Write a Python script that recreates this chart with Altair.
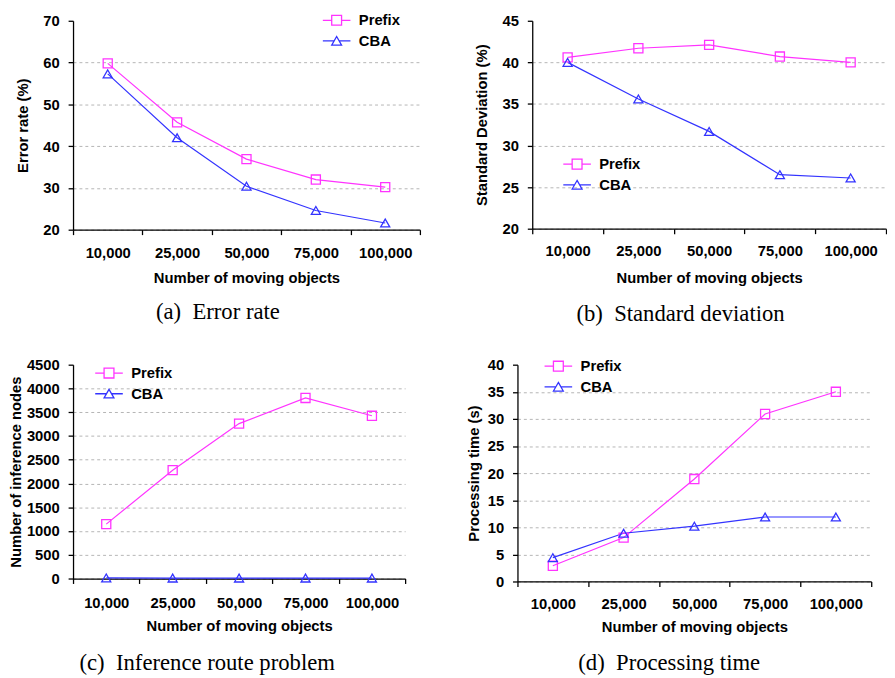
import altair as alt
import pandas as pd

# ---------------- data ----------------
objects = ["10,000", "25,000", "50,000", "75,000", "100,000"]
series = ["Prefix", "CBA"]

err_prefix = [59.8, 45.7, 36.9, 32.0, 30.2]
err_cba = [57.3, 42.0, 30.4, 24.6, 21.6]
err_ticks = [20, 30, 40, 50, 60, 70]

std_prefix = [40.6, 41.7, 42.1, 40.7, 40.0]
std_cba = [40.0, 35.6, 31.7, 26.5, 26.1]
std_ticks = [20, 25, 30, 35, 40, 45]

nodes_prefix = [1145, 2280, 3260, 3800, 3425]
nodes_cba = [12, 10, 10, 10, 10]
nodes_ticks = [0, 500, 1000, 1500, 2000, 2500, 3000, 3500, 4000, 4500]

time_prefix = [2.9, 8.1, 18.9, 30.9, 35.0]
time_cba = [4.4, 8.9, 10.2, 11.9, 11.9]
time_ticks = [0, 5, 10, 15, 20, 25, 30, 35, 40]

# ---------------- style ----------------
MAG = "#FF33FF"
BLUE = "#3333FF"
FONT = "Liberation Sans"
SERIF = "Liberation Serif"
SQ_PATH = "M-2.8,0H-1M1,0H2.8M-1,-1H1V1H-1Z"
TR_PATH = "M-2.8,0H-0.55M0.55,0H2.8M0,-0.9L1,0.85H-1Z"


def panel(prefix, cba, ticks, ytitle, caption, w, h, ytp, leg_xy,
          xlp, xtp, cap_off, fmt="d"):
    df = pd.DataFrame({
        "n": objects * 2,
        "s": ["Prefix"] * len(objects) + ["CBA"] * len(objects),
        "v": prefix + cba,
    })
    lo, hi = ticks[0], ticks[-1]
    x = alt.X("n:N", sort=objects,
              scale=alt.Scale(paddingInner=0, paddingOuter=0),
              axis=alt.Axis(title="Number of moving objects", labelAngle=0,
                            tickBand="extent", grid=False,
                            labelPadding=xlp, titlePadding=xtp))
    y = alt.Y("v:Q", scale=alt.Scale(domain=[lo, hi], nice=False, zero=False),
              axis=alt.Axis(title=ytitle, values=ticks, format=fmt,
                            titlePadding=ytp, labelPadding=9,
                            gridOpacity={"condition": {"test": f"datum.value >= {hi}", "value": 0},
                                         "value": 1}))
    base = alt.Chart(df).encode(x=x, y=y)
    lp = base.transform_filter(alt.datum.s == "Prefix").mark_line(color=MAG, strokeWidth=1.2)
    lc = base.transform_filter(alt.datum.s == "CBA").mark_line(color=BLUE, strokeWidth=1.2)
    pp = base.transform_filter(alt.datum.s == "Prefix").mark_point(
        shape="square", size=85, color=MAG, filled=False, strokeWidth=1.3, opacity=1)
    pc = base.transform_filter(alt.datum.s == "CBA").mark_point(
        shape="triangle-up", size=85, color=BLUE, filled=False, strokeWidth=1.3, opacity=1)
    leg_def = dict(title=None, orient="none", legendX=leg_xy[0], legendY=leg_xy[1])
    leg = base.transform_filter("false").mark_point(
        filled=False, size=100, strokeWidth=1.3, opacity=1).encode(
        color=alt.Color("s:N", scale=alt.Scale(domain=series, range=[MAG, BLUE]),
                        legend=alt.Legend(**leg_def)),
        shape=alt.Shape("s:N", scale=alt.Scale(domain=series, range=[SQ_PATH, TR_PATH]),
                        legend=alt.Legend(**leg_def)),
    )
    return alt.layer(lp, lc, pp, pc, leg).properties(
        width=w, height=h,
        title=alt.TitleParams(caption, orient="bottom", anchor="middle", frame="bounds",
                              font=SERIF, fontSize=23, fontWeight="normal",
                              color="black", offset=cap_off))


pa = panel(err_prefix, err_cba, err_ticks, "Error rate (%)", "(a)\u2002Error rate",
           352, 212, 13, (260, -8), 11, 11, 16)
pb = panel(std_prefix, std_cba, std_ticks, "Standard Deviation (%)", "(b)\u2002Standard deviation",
           359, 211, 13, (38, 138), 10, 13, 18)
pc = panel(nodes_prefix, nodes_cba, nodes_ticks, "Number of inference nodes",
           "(c)\u2002Inference route problem", 337, 217, 3, (29, 1), 12, 9, 19)
pd_ = panel(time_prefix, time_cba, time_ticks, "Processing time (s)", "(d)\u2002Processing time",
            359, 220, 6, (34, -6), 10, 9, 18)

ind = dict(color="independent", shape="independent")
row1 = alt.hconcat(pa, pb, spacing=114, bounds="flush").resolve_scale(**ind).resolve_legend(**ind)
row2 = alt.hconcat(pc, pd_, spacing=114, bounds="flush").resolve_scale(**ind).resolve_legend(**ind)

chart = alt.vconcat(row1, row2, spacing=32).resolve_scale(**ind).resolve_legend(
    **ind).properties(padding=0).configure_view(
    stroke=None
).configure_axis(
    labelFont=FONT, labelFontSize=15, labelFontWeight="bold", labelColor="black",
    titleFont=FONT, titleFontSize=15, titleFontWeight="bold", titleColor="black",
    domainColor="black", domainWidth=1.3, tickColor="black", tickSize=5, tickWidth=1.3,
    gridColor="#b5b5b5", gridDash=[3, 3], gridWidth=1,
).configure_legend(
    labelFont=FONT, labelFontSize=15, labelFontWeight="bold", labelColor="black",
    symbolStrokeWidth=1.3, symbolOpacity=1, labelOffset=15, rowPadding=5, padding=0,
)

chart.save("out.html", embed_options={"renderer": "svg", "actions": False})
